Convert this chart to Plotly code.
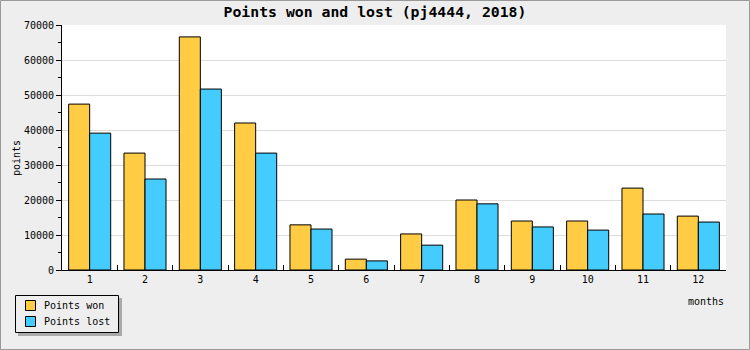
import plotly.graph_objects as go

months = ["1", "2", "3", "4", "5", "6", "7", "8", "9", "10", "11", "12"]
points_won = [47400, 33400, 66600, 42000, 12900, 3100, 10300, 20000, 14000, 14000, 23400, 15400]
points_lost = [39100, 26000, 51700, 33400, 11700, 2600, 7100, 18900, 12300, 11400, 16000, 13700]
y_ticks = [0, 10000, 20000, 30000, 40000, 50000, 60000, 70000]
y_tick_text = [str(v) for v in y_ticks]
series_names = ["Points won", "Points lost"]
series_colors = ["#FFCC44", "#44CCFF"]

W, H = 750, 350
ML, MR, MT, MB = 62, 24, 25, 80
PW, PH = W - ML - MR, H - MT - MB

def px(x):
    return (x - ML) / PW

def py(y):
    return (H - MB - y) / PH

FONT = "DejaVu Sans Mono"

fig = go.Figure()
for name, vals, col in zip(series_names, [points_won, points_lost], series_colors):
    fig.add_trace(go.Bar(x=months, y=vals, name=name,
                         marker=dict(color=col, line=dict(color="black", width=1))))

shapes = [
    # legend shadow
    dict(type="rect", xref="paper", yref="paper",
         x0=px(18), x1=px(122), y0=py(298), y1=py(336),
         fillcolor="#AAAAAA", line=dict(width=0)),
    # legend box
    dict(type="rect", xref="paper", yref="paper",
         x0=px(15.5), x1=px(118.5), y0=py(295.5), y1=py(332.5),
         fillcolor="#EEEEEE", line=dict(color="black", width=1)),
    # outer border
    dict(type="rect", xref="paper", yref="paper",
         x0=px(0.5), x1=px(W - 0.5), y0=py(H - 0.5), y1=py(0.5),
         fillcolor="rgba(0,0,0,0)", line=dict(color="#999999", width=1)),
]
annotations = [
    dict(text="months", xref="paper", yref="paper", x=1, y=py(301),
         xanchor="right", yanchor="middle", showarrow=False, font=dict(size=10)),
    dict(text="points", xref="paper", yref="paper", x=px(16), y=py(158),
         xanchor="center", yanchor="middle", textangle=-90, showarrow=False,
         font=dict(size=10)),
]
for i, (name, col) in enumerate(zip(series_names, series_colors)):
    top = 300.5 + 16 * i
    shapes.append(dict(type="rect", xref="paper", yref="paper",
                       x0=px(25.5), x1=px(35.5), y0=py(top), y1=py(top + 10),
                       fillcolor=col, line=dict(color="black", width=1)))
    annotations.append(dict(text=name, xref="paper", yref="paper", x=px(42),
                            y=py(top + 5), xanchor="left", yanchor="middle",
                            showarrow=False, font=dict(size=10)))

fig.update_layout(
    width=W, height=H,
    margin=dict(l=ML, r=MR, t=MT, b=MB, autoexpand=False),
    paper_bgcolor="#EEEEEE", plot_bgcolor="white",
    barmode="group", bargap=0.24, bargroupgap=0,
    font=dict(family=FONT, size=10, color="black"),
    title=dict(text="<b>Points won and lost (pj4444, 2018)</b>", x=0.5, xref="container",
               xanchor="center", y=1 - 12 / H, yanchor="middle",
               font=dict(family=FONT, size=14.8)),
    showlegend=False,
    xaxis=dict(type="category", showgrid=False, showline=True, linecolor="black",
               linewidth=1, ticks="inside", ticklen=5, tickcolor="black",
               tickson="boundaries", tickfont=dict(size=10), fixedrange=True),
    yaxis=dict(range=[0, 70000], tickvals=y_ticks, ticktext=y_tick_text,
               showgrid=True, gridcolor="#DDDDDD",
               showline=True, linecolor="black", linewidth=1, ticks="outside",
               ticklen=5, tickcolor="black", zeroline=False, tickfont=dict(size=10),
               minor=dict(dtick=5000, ticks="outside", ticklen=3, tickcolor="black", showgrid=False)),
    shapes=shapes,
    annotations=annotations,
)

fig.write_html("out.html")
